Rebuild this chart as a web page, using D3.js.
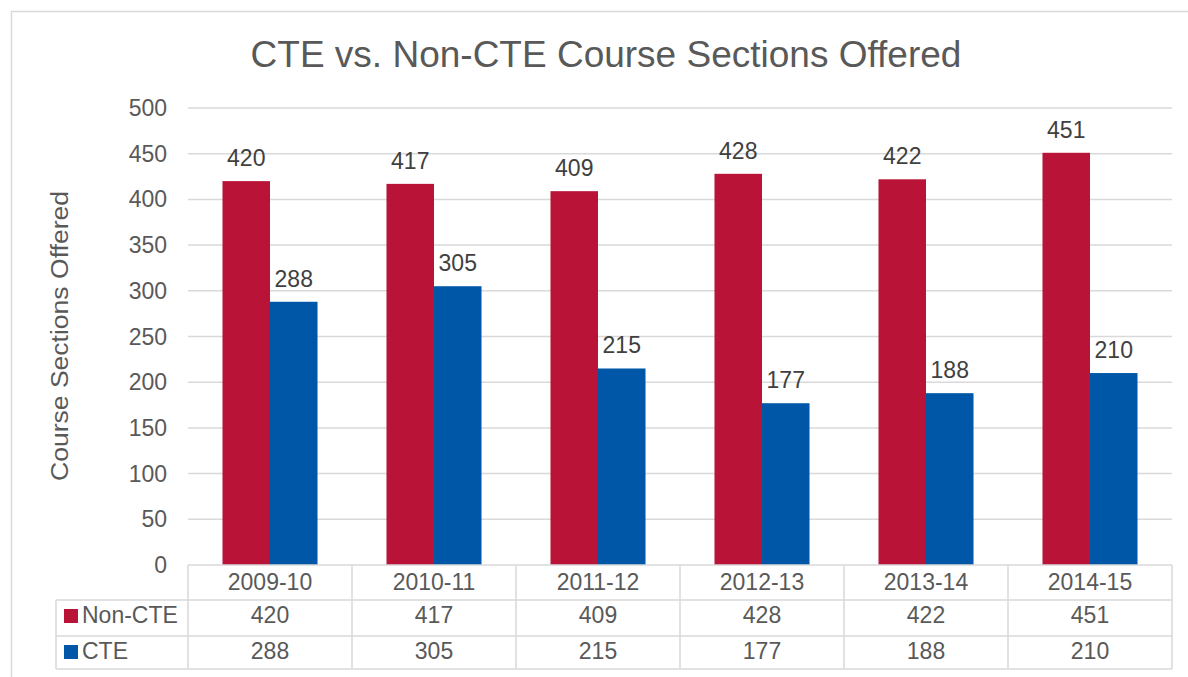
<!DOCTYPE html>
<html lang="en">
<head>
  <meta charset="UTF-8">
  <title>CTE vs. Non-CTE Course Sections Offered</title>
  <style>
    body { margin: 0; background: #fff; font-family: "Liberation Sans", Arial, sans-serif; }
    svg { display: block; }
    .grid line { stroke: #d9d9d9; stroke-width: 1.5px; }
    .tick-label { fill: #595959; font-size: 23px; }
    .bar-label { fill: #404040; font-size: 23px; }
    .table-line { stroke: #d9d9d9; stroke-width: 1.5px; }
    .table-text { fill: #595959; font-size: 23px; }
  </style>
</head>
<body>
  <div id="chart"></div>
  <script src="https://d3js.org/d3.v7.min.js"></script>
  <script>
    // Chart data
    const categories = ["2009-10", "2010-11", "2011-12", "2012-13", "2013-14", "2014-15"];
    const seriesNames = ["Non-CTE", "CTE"];
    const nonCte = [420, 417, 409, 428, 422, 451];
    const cte = [288, 305, 215, 177, 188, 210];
    const yTicks = [0, 50, 100, 150, 200, 250, 300, 350, 400, 450, 500];
    const colors = ["#b91438", "#0057a8"];

    const seriesValues = [nonCte, cte];

    const width = 1188;
    const height = 677;

    // Plot area
    const plot = { left: 188, right: 1172, top: 108, bottom: 565 };
    const rowH = [35, 36, 33];  // table rows: categories, Non-CTE, CTE
    const tableLeft = 56;

    const svg = d3.select("#chart")
      .append("svg")
      .attr("width", width)
      .attr("height", height);

    // Outer chart border
    svg.append("rect")
      .attr("x", 11.5)
      .attr("y", 11.5)
      .attr("width", 1200)
      .attr("height", 700)
      .attr("fill", "none")
      .attr("stroke", "#d9d9d9")
      .attr("stroke-width", 1.5);

    // Scales
    const x0 = d3.scaleBand()
      .domain(categories)
      .range([plot.left, plot.right])
      .padding(0);

    const x1 = d3.scaleBand()
      .domain(seriesNames)
      .range([0, x0.bandwidth()])
      .paddingInner(0)
      .paddingOuter(0.726);

    const y = d3.scaleLinear()
      .domain([0, 500])
      .range([plot.bottom, plot.top]);

    // Title
    svg.append("text")
      .attr("x", 606)
      .attr("y", 67)
      .attr("text-anchor", "middle")
      .attr("fill", "#595959")
      .style("font-size", "37px")
      .text("CTE vs. Non-CTE Course Sections Offered");

    // Y axis title
    svg.append("text")
      .attr("transform", "translate(68,336) rotate(-90)")
      .attr("text-anchor", "middle")
      .attr("fill", "#595959")
      .attr("textLength", 290)
      .attr("lengthAdjust", "spacingAndGlyphs")
      .style("font-size", "23px")
      .text("Course Sections Offered");

    // Gridlines
    svg.append("g")
      .attr("class", "grid")
      .selectAll("line")
      .data(yTicks.filter(d => d > 0))
      .join("line")
      .attr("x1", plot.left)
      .attr("x2", plot.right)
      .attr("y1", d => y(d))
      .attr("y2", d => y(d));

    // Y tick labels
    svg.append("g")
      .selectAll("text")
      .data(yTicks)
      .join("text")
      .attr("class", "tick-label")
      .attr("x", 167)
      .attr("y", d => y(d))
      .attr("dy", "0.35em")
      .attr("text-anchor", "end")
      .text(d => d);

    // Bars
    const groups = svg.append("g")
      .selectAll("g")
      .data(categories)
      .join("g")
      .attr("transform", d => `translate(${x0(d)},0)`);

    groups.selectAll("rect")
      .data((c, i) => seriesNames.map((s, j) => ({ s, j, v: seriesValues[j][i] })))
      .join("rect")
      .attr("x", d => x1(d.s))
      .attr("y", d => y(d.v))
      .attr("width", x1.bandwidth())
      .attr("height", d => y(0) - y(d.v))
      .attr("fill", d => colors[d.j]);

    groups.selectAll("text")
      .data((c, i) => seriesNames.map((s, j) => ({ s, j, v: seriesValues[j][i] })))
      .join("text")
      .attr("class", "bar-label")
      .attr("x", d => x1(d.s) + x1.bandwidth() / 2)
      .attr("y", d => y(d.v) - 15)
      .attr("text-anchor", "middle")
      .text(d => d.v);

    // Data table
    const rowTop = [plot.bottom, plot.bottom + rowH[0], plot.bottom + rowH[0] + rowH[1]];
    const tableBottom = rowTop[2] + rowH[2];
    const table = svg.append("g");

    // horizontal lines
    table.append("line").attr("class", "table-line")
      .attr("x1", plot.left).attr("x2", plot.right)
      .attr("y1", rowTop[0]).attr("y2", rowTop[0]);
    [rowTop[1], rowTop[2], tableBottom].forEach(yy => {
      table.append("line").attr("class", "table-line")
        .attr("x1", tableLeft).attr("x2", plot.right)
        .attr("y1", yy).attr("y2", yy);
    });

    // vertical lines
    table.append("line").attr("class", "table-line")
      .attr("x1", tableLeft).attr("x2", tableLeft)
      .attr("y1", rowTop[1]).attr("y2", tableBottom);
    categories.forEach(c => {
      table.append("line").attr("class", "table-line")
        .attr("x1", x0(c)).attr("x2", x0(c))
        .attr("y1", rowTop[0]).attr("y2", tableBottom);
    });
    table.append("line").attr("class", "table-line")
      .attr("x1", plot.right).attr("x2", plot.right)
      .attr("y1", rowTop[0]).attr("y2", tableBottom);

    // category header
    table.selectAll(".cat")
      .data(categories)
      .join("text")
      .attr("class", "table-text cat")
      .attr("x", d => x0(d) + x0.bandwidth() / 2)
      .attr("y", rowTop[0] + 25)
      .attr("text-anchor", "middle")
      .text(d => d);

    // series rows
    seriesNames.forEach((s, j) => {
      const top = rowTop[j + 1];
      const base = top + 23;
      table.append("rect")
        .attr("x", 64)
        .attr("y", top + 9)
        .attr("width", 14)
        .attr("height", 14)
        .attr("fill", colors[j]);
      table.append("text")
        .attr("class", "table-text")
        .attr("x", 82)
        .attr("y", base)
        .text(s);
      table.selectAll(".v" + j)
        .data(seriesValues[j])
        .join("text")
        .attr("class", "table-text v" + j)
        .attr("x", (d, i) => x0(categories[i]) + x0.bandwidth() / 2)
        .attr("y", base)
        .attr("text-anchor", "middle")
        .text(d => d);
    });
  </script>
</body>
</html>
